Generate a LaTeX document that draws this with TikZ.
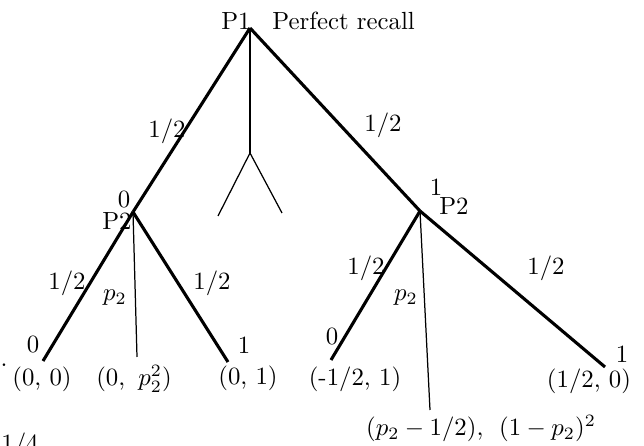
\documentclass[tikz,border=0pt]{standalone}
\begin{document}
\begin{tikzpicture}[x=0.4032pt,y=-0.4032pt,
  thickline/.style={line width=1.25pt},
  thinline/.style={line width=0.5pt},
  lbl/.style={inner sep=0pt,anchor=center}]
\useasboundingbox (0,0) rectangle (644,446);
% tree points
\coordinate (R) at (250,28);
\coordinate (A) at (133,212);
\coordinate (B) at (420,211);
\coordinate (M) at (250,153);
\coordinate (M1) at (218,216);
\coordinate (M2) at (282,213);
\coordinate (A1) at (43,361);
\coordinate (A2) at (137,357);
\coordinate (A3) at (228,362);
\coordinate (B1) at (331,360);
\coordinate (B2) at (430,410);
\coordinate (B3) at (605,367);
% edges
\draw[thickline] (R) -- (A);
\draw[thickline] (R) -- (B);
\draw[thinline] (R) -- (M);
\draw[thinline] (M) -- (M1);
\draw[thinline] (M) -- (M2);
\draw[thickline] (A) -- (A1);
\draw[thinline] (A) -- (A2);
\draw[thickline] (A) -- (A3);
\draw[thickline] (B) -- (B1);
\draw[thinline] (B) -- (B2);
\draw[thickline] (B) -- (B3);
% labels
\node[inner sep=0pt,anchor=base] (p1) at (236,30) {P1};
\node[inner sep=0pt,anchor=base west] (pr) at (272,30) {Perfect recall};
\node[lbl] (h1) at (167,131) {1/2};
\node[lbl] (h2) at (383,125) {1/2};
\node[lbl] (a0) at (124,200) {0};
\node[lbl] (aP) at (117,221) {P2};
\node[lbl] (b1) at (436,187) {1};
\node[lbl] (bP) at (454,206) {P2};
\node[lbl] (ah1) at (67,283) {1/2};
\node[lbl] (ap) at (115,298) {$p_2$};
\node[lbl] (ah2) at (212,283) {1/2};
\node[lbl] (bh1) at (366,268) {1/2};
\node[lbl] (bp) at (406,298) {$p_2$};
\node[lbl] (bh2) at (546,268) {1/2};
\node[lbl] (l0) at (33,345) {0};
\node[lbl] (l1) at (244,345) {1};
\node[lbl] (r0) at (332,337) {0};
\node[lbl] (r1) at (622,354) {1};
\node[lbl] (o1) at (42,379) {(0, 0)};
\node[lbl] (o2) at (134,379) {(0,\hspace{2pt} $p_2^2$)};
\node[lbl] (o3) at (248,378) {(0, 1)};
\node[lbl] (o4) at (355,379) {(-1/2, 1)};
\node[lbl] (o5) at (589,381) {(1/2, 0)};
\node[lbl] (o6) at (481,429) {($p_2-1/2$),\hspace{3pt} $(1-p_2)^2$};
\node[inner sep=0pt,anchor=base] (dot) at (4,367) {.};
\node[inner sep=0pt,anchor=base] (q) at (20,452) {1/4};
\end{tikzpicture}
\end{document}
